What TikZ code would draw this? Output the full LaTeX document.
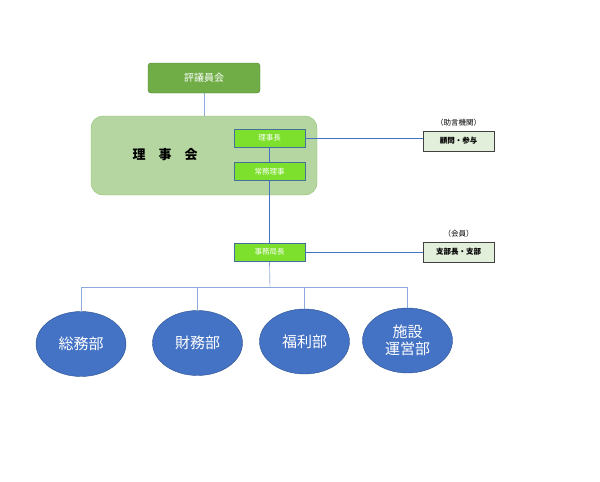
\documentclass[tikz,border=0pt]{standalone}
\usepackage{fontspec}
\setmainfont{Noto Sans CJK JP}
\usepackage{tikz}
\usetikzlibrary{positioning,shapes.geometric}
\usepackage{xcolor}
\definecolor{hgreen}{HTML}{70AD47}
\definecolor{hgreenline}{HTML}{507E32}
\definecolor{bgreen}{HTML}{B5D6A0}
\definecolor{bgreenline}{HTML}{8CC168}
\definecolor{lime}{HTML}{7DE02C}
\definecolor{limeline}{HTML}{41719C}
\definecolor{pale}{HTML}{E2EFDA}
\definecolor{dblue}{HTML}{4472C4}
\definecolor{dblueline}{HTML}{2F528F}
\definecolor{lblue}{HTML}{8EA9DB}

\begin{document}
\begin{tikzpicture}[
  x=1pt,y=-1pt,
  node distance=15pt,
  topbox/.style={draw=hgreenline,fill=hgreen,rounded corners=3pt,minimum width=112pt,minimum height=30pt,text=white,font=\fontsize{10}{12}\selectfont},
  board/.style={draw=bgreenline,fill=bgreen,rounded corners=12pt,minimum width=226pt,minimum height=79pt},
  post/.style={draw=limeline,thick,fill=lime,minimum width=71pt,minimum height=18pt,inner sep=0pt,text=white,font=\fontsize{7.5}{9}\selectfont},
  side/.style={draw=black!75,thick,fill=pale,minimum width=71pt,minimum height=20pt,inner sep=0pt,font=\fontsize{7.5}{9}\selectfont\bfseries},
  note/.style={font=\fontsize{7.5}{9}\selectfont},
  dept/.style={ellipse,draw=dblueline,fill=dblue,minimum width=90pt,minimum height=65pt,inner sep=0pt,align=center,text=white,font=\fontsize{15}{17}\selectfont},
  line/.style={dblue,thin},
  light/.style={lblue,thick}
]
\useasboundingbox (0,0) rectangle (600,482);
% board and officers
\node[topbox] (hyogi) at (204,78) {評議員会};
\node[board] (rijikai) at (204,155.5) {};
\node[font=\fontsize{13}{15}\selectfont\bfseries] (rijikaitext) at (165,155) {理\hspace{1em}事\hspace{1em}会};
\node[post] (chair) at (269.5,138) {理事長};
\node[post,below=15pt of chair] (joumu) {常務理事};
\node[post] (jimu) at (269.5,252) {事務局長};
% right side
\node[side] (komon) at (458.5,141) {顧問・参与};
\node[note,above=1pt of komon] (komonlbl) {（助言機関）};
\node[side] (shibu) at (458.5,252) {支部長・支部};
\node[note,above=1pt of shibu] (shibulbl) {（会員）};
% departments
\node[dept] (soumu) at (81,344) {総務部};
\node[dept] (zaimu) at (197.5,343) {財務部};
\node[dept] (fukuri) at (304.5,341.5) {福利部};
\node[dept] (shisetsu) at (407.5,340.5) {施設\\運営部};
\coordinate (bus) at (270,287);

\draw[light] (hyogi) -- (rijikai);
\draw[line] (chair) -- (joumu);
\draw[line] (chair.east) -- (komon.west |- chair.east);
\draw[line] (joumu) -- (jimu);
\draw[line] (jimu) -- (shibu);
\draw[line] (jimu) -- (bus);
\draw[light] (soumu.north |- bus) -- (shisetsu.north |- bus);
\foreach \d in {soumu,zaimu,fukuri,shisetsu}
  \draw[light] (\d.north) -- (\d.north |- bus);
\end{tikzpicture}
\end{document}
